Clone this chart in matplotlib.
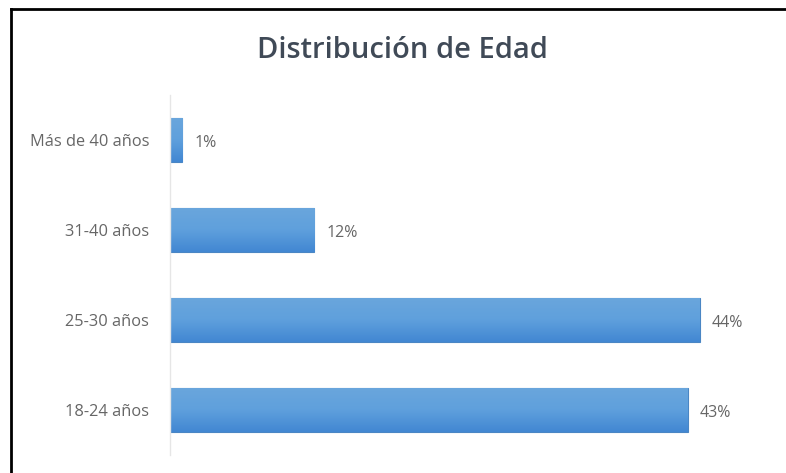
import matplotlib
matplotlib.use("Agg")
import matplotlib.pyplot as plt
import numpy as np
from matplotlib.lines import Line2D

categories = ["18-24 años", "25-30 años", "31-40 años", "Más de 40 años"]
values = [43, 44, 12, 1]
value_labels = ["43%", "44%", "12%", "1%"]

W, H = 786, 473
fig = plt.figure(figsize=(W / 100, H / 100), dpi=100)
fig.patch.set_facecolor("white")

# plot area in pixel coordinates
left_px, right_px = 170, 772
top_px, bottom_px = 95, 455
ax = fig.add_axes([left_px / W, 1 - bottom_px / H,
                   (right_px - left_px) / W, (bottom_px - top_px) / H])
ax.set_xlim(0, 50)
ax.set_ylim(-0.5, 3.5)

y = np.arange(len(categories))
bars = ax.barh(y, values, height=0.49, color="#5a9bd8", edgecolor="#4a86c4",
               linewidth=0.8, zorder=2)

# vertical gradient on each bar (lighter top, deeper bottom)
grad = np.linspace(0, 1, 64).reshape(-1, 1)
cmap = matplotlib.colors.LinearSegmentedColormap.from_list(
    "barfill", ["#4287d2", "#5fa0dd", "#6aa6dc"])
for b in bars:
    x0, y0 = b.get_x(), b.get_y()
    w, h = b.get_width(), b.get_height()
    im = ax.imshow(grad, extent=(x0, x0 + w, y0, y0 + h), origin="lower",
                   cmap=cmap, aspect="auto", zorder=2.5)
    im.set_clip_path(b)

for yi, v, lab in zip(y, values, value_labels):
    ax.text(v + 1.0, yi - 0.03, lab, va="center", ha="left", fontsize=11.5,
            color="#666666", family="Open Sans")

ax.set_yticks(y)
ax.set_yticklabels(categories, fontsize=11.8, color="#666666", family="Open Sans")
ax.tick_params(axis="y", length=0, pad=15)
ax.set_xticks([])
for s in ["top", "right", "bottom"]:
    ax.spines[s].set_visible(False)
ax.spines["left"].set_color("#e6e6e6")
ax.spines["left"].set_linewidth(1.0)
ax.set_facecolor("none")

fig.text(402 / W, 1 - 58 / H, "Distribución de Edad", ha="center", va="baseline",
         fontsize=21, fontweight="semibold", color="#404a57", family="Open Sans")

# frame lines along top and left edges
fig.add_artist(Line2D([11 / W, 1.0], [1 - 9 / H, 1 - 9 / H],
                      transform=fig.transFigure, color="black", linewidth=2))
fig.add_artist(Line2D([11 / W, 11 / W], [0, 1 - 9 / H],
                      transform=fig.transFigure, color="black", linewidth=2))

fig.savefig("out.png", dpi=100, facecolor="white")
